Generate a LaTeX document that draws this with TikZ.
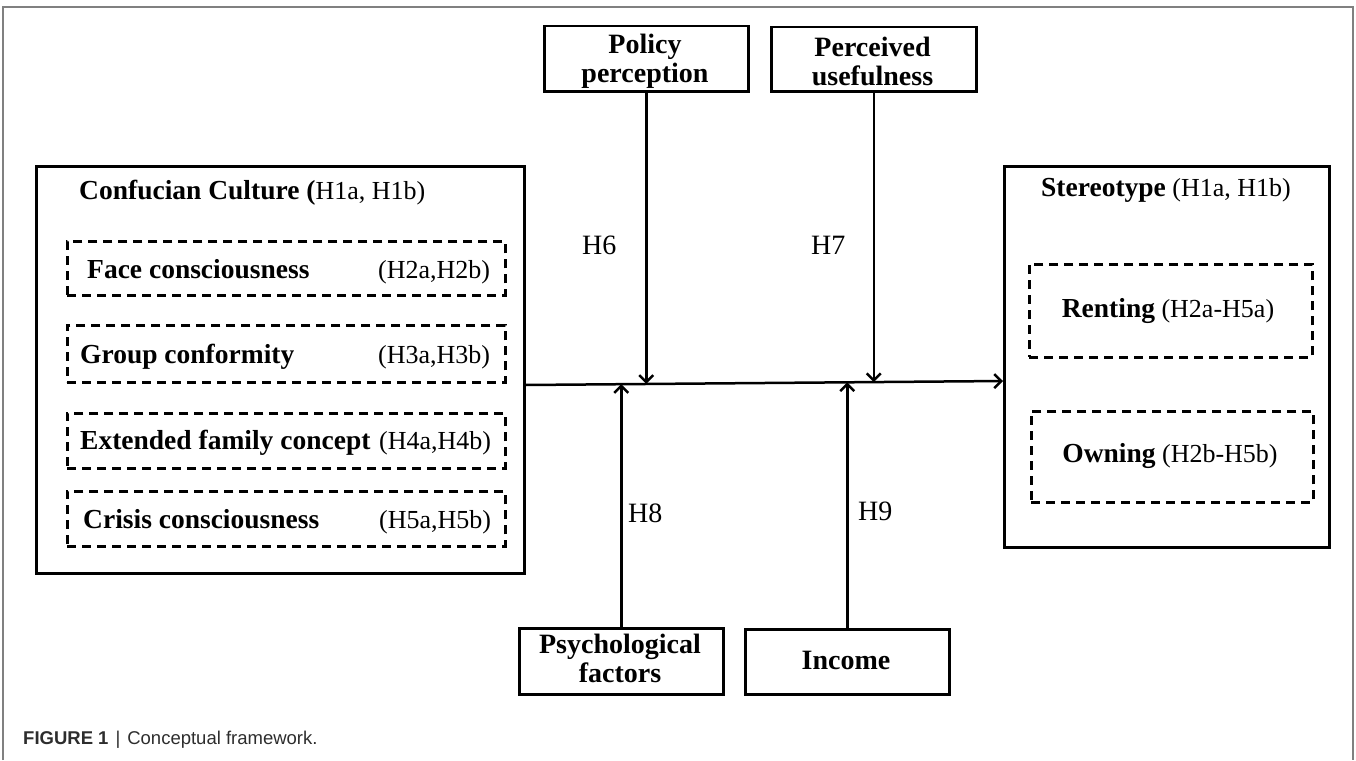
\documentclass[tikz,border=0pt]{standalone}
\usepackage{fontspec}
\setmainfont{Liberation Serif}
\newfontfamily\capfont{Liberation Sans}
\usetikzlibrary{arrows.meta,calc}
\definecolor{framegray}{RGB}{128,128,128}
\definecolor{capgray}{RGB}{45,45,45}
\newcommand\bt[1]{{\fontsize{27.5}{30}\selectfont\bfseries #1}}
\tikzset{
  solidbox/.style={draw, line width=2.5pt, rectangle, inner sep=0pt, anchor=north west},
  dashbox/.style={draw, line width=2.5pt, rectangle, inner sep=0pt, anchor=north west, dash pattern=on 9pt off 6pt},
  txt/.style={inner sep=0pt, font=\fontsize{26}{30}\selectfont},
  toptxt/.style={inner sep=0pt, align=center, font=\fontsize{28}{29}\selectfont\bfseries},
  hlab/.style={inner sep=0pt, anchor=base west, font=\fontsize{28}{30}\selectfont},
  arr/.style={line width=2.5pt, -{Straight Barb[length=7pt,width=14pt,line width=2.5pt]}},
}
\begin{document}
\begin{tikzpicture}[x=1pt,y=-1pt]
\useasboundingbox (0,0) rectangle (1356,760);
% outer frame
\draw[framegray, line width=1.5pt] (3,760) -- (3,7) -- (1353,7) -- (1353,760);
% left box
\node[solidbox, minimum width=488pt, minimum height=407pt] (L) at (35,165) {};
\node[txt, anchor=base west] (Ltitle) at (79,199) {\bt{Confucian Culture (}H1a, H1b)};
\node[dashbox, minimum width=438pt, minimum height=54pt] (D1) at (66,240) {};
\node[dashbox, minimum width=438pt, minimum height=57pt] (D2) at (66,324) {};
\node[dashbox, minimum width=438pt, minimum height=55pt] (D3) at (66,412) {};
\node[dashbox, minimum width=438pt, minimum height=55pt] (D4) at (66,490) {};
\node[txt, anchor=base west] (D1a) at (87,278) {\bt{Face consciousness}};
\node[txt, anchor=base west] (D1b) at (378,278) {(H2a,H2b)};
\node[txt, anchor=base west] (D2a) at (80,363) {\bt{Group conformity}};
\node[txt, anchor=base west] (D2b) at (378,363) {(H3a,H3b)};
\node[txt, anchor=base west] (D3a) at (80,449) {\bt{Extended family concept}};
\node[txt, anchor=base west] (D3b) at (379,449) {(H4a,H4b)};
\node[txt, anchor=base west] (D4a) at (83,528) {\bt{Crisis consciousness}};
\node[txt, anchor=base west] (D4b) at (379,528) {(H5a,H5b)};
% right box
\node[solidbox, minimum width=325pt, minimum height=381pt] (R) at (1003,165) {};
\node[txt, anchor=base] (Rtitle) at (1166,196) {\bt{Stereotype} (H1a, H1b)};
\node[dashbox, minimum width=283pt, minimum height=93pt] (RD1) at (1028,263) {};
\node[dashbox, minimum width=282pt, minimum height=91pt] (RD2) at (1030,410) {};
\node[txt, anchor=base] (RD1t) at (1168,317) {\bt{Renting} (H2a-H5a)};
\node[txt, anchor=base] (RD2t) at (1170,462) {\bt{Owning} (H2b-H5b)};
% top boxes
\node[solidbox, minimum width=204pt, minimum height=65pt] (P) at (543,25) {};
\node[toptxt] (Pt) at (645,61) {Policy\\perception};
\node[solidbox, minimum width=205pt, minimum height=64pt] (U) at (770,26) {};
\node[toptxt] (Ut) at (872.5,61) {Perceived\\usefulness};
% bottom boxes
\node[solidbox, minimum width=204pt, minimum height=66pt] (S) at (518,627) {};
\node[toptxt] (St) at (620,658.5) {Psychological\\factors};
\node[solidbox, minimum width=204pt, minimum height=65pt] (I) at (744,628) {};
\node[toptxt, anchor=base] (It) at (846,669) {Income};
% main line
\coordinate (m0) at (L.east |- 0,385);
\coordinate (m1) at (R.west |- 0,381);
\draw[arr] (m0) -- (m1);
\coordinate (jP) at ($(m0)!{(645-523)/480}!(m1)$);
\coordinate (jU) at ($(m0)!{(873-523)/480}!(m1)$);
\coordinate (jS) at ($(m0)!{(620-523)/480}!(m1)$);
\coordinate (jI) at ($(m0)!{(846-523)/480}!(m1)$);
\draw[arr] (P.south) -- (P.south |- jP);
\draw[arr] (U.south) -- (U.south |- jU);
\draw[arr] (S.north) -- (S.north |- jS);
\draw[arr] (I.north) -- (I.north |- jI);
% labels
\node[hlab] (H6) at (582,254) {H6};
\node[hlab] (H7) at (811,254) {H7};
\node[hlab] (H8) at (628,522) {H8};
\node[hlab] (H9) at (858,520) {H9};
% caption
\node[inner sep=0pt, anchor=base west, text=capgray, font=\capfont\fontsize{18.5}{20}\selectfont] (cap) at (23,744) {\textbf{FIGURE 1}\hspace{7pt}|\hspace{7pt}Conceptual framework.};
\end{tikzpicture}
\end{document}
